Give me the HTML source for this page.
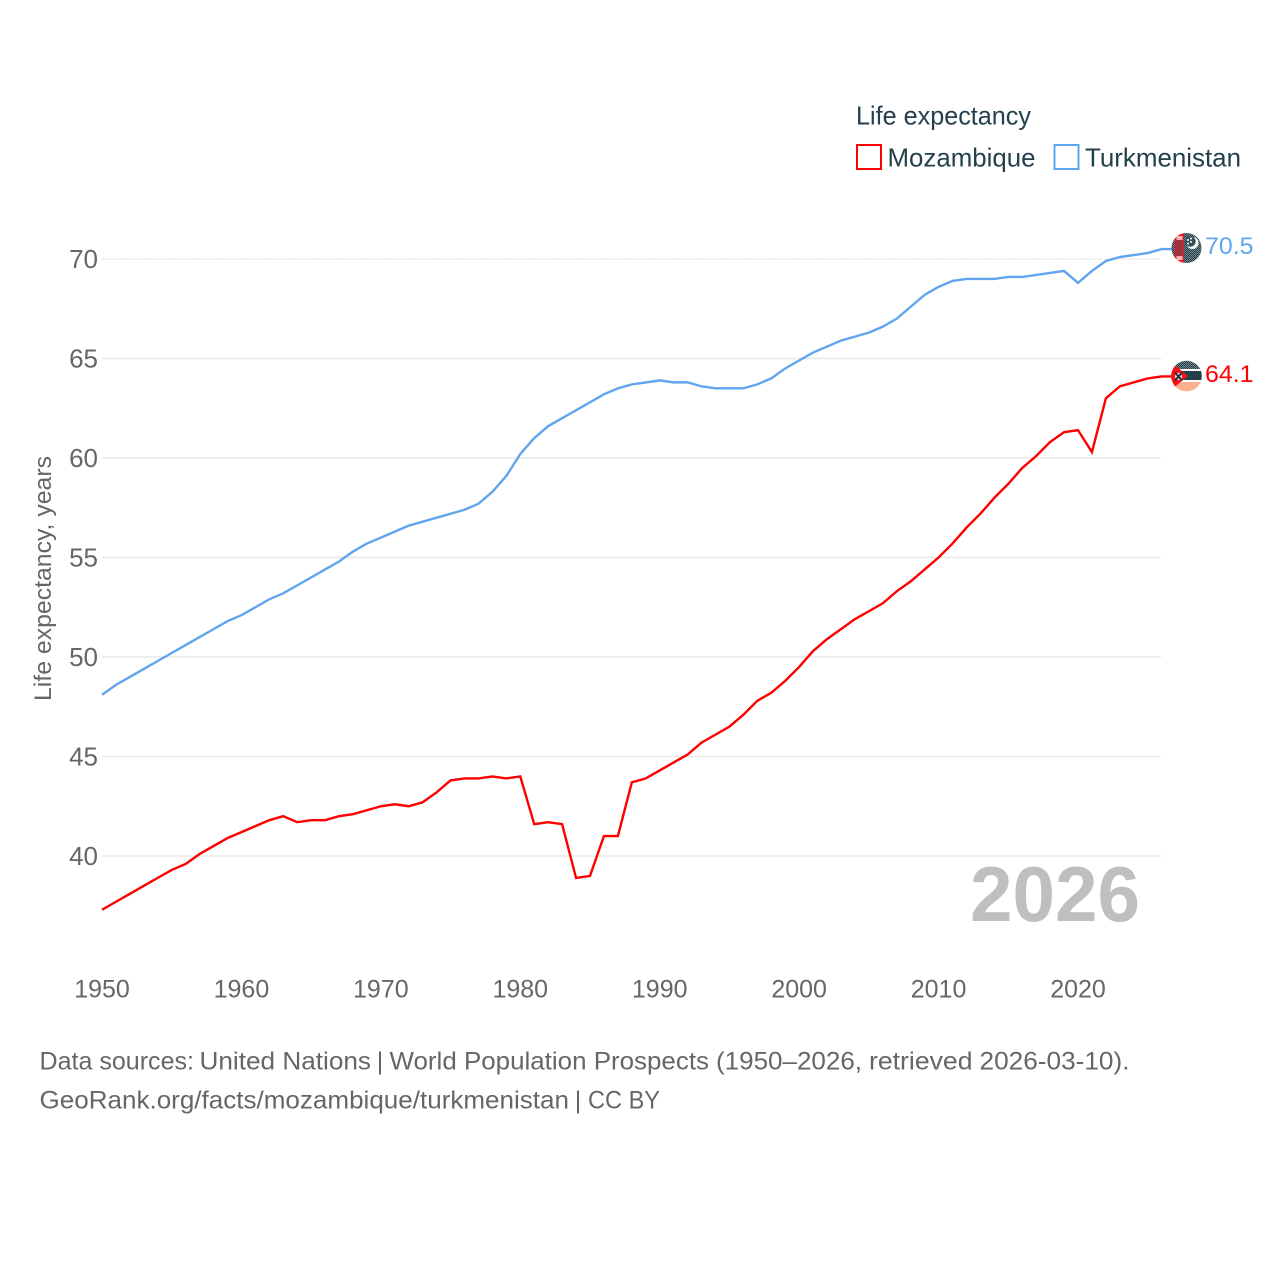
<!DOCTYPE html>
<html lang="en">
<head>
<meta charset="utf-8">
<title>Life expectancy: Mozambique and Turkmenistan</title>
<style>
html,body{margin:0;padding:0;background:#fff;width:1280px;height:1280px;overflow:hidden}
svg{display:block}
text{font-family:"Liberation Sans",sans-serif}
</style>
</head>
<body>
<svg id="chart" width="1280" height="1280" viewBox="0 0 1280 1280" xmlns="http://www.w3.org/2000/svg">
  <defs>
    <pattern id="dither" width="2" height="2" patternUnits="userSpaceOnUse">
      <rect width="2" height="2" fill="#22404a"/>
      <rect width="1" height="1" fill="#75878d"/>
      <rect x="1" y="1" width="1" height="1" fill="#75878d"/>
    </pattern>
    <clipPath id="clip-turkmenistan"><circle cx="1186.5" cy="248" r="15"/></clipPath>
    <clipPath id="clip-mozambique"><circle cx="1186.5" cy="376" r="15.3"/></clipPath>
  </defs>
  <g id="grid"></g>
  <g id="y-ticks"></g>
  <g id="x-ticks"></g>
  <text transform="translate(51,578.5) rotate(-90)" text-anchor="middle" font-size="24" fill="#666" textLength="245" lengthAdjust="spacingAndGlyphs">Life expectancy, years</text>
  <text x="970" y="921" font-size="78" font-weight="700" fill="#bfbfbf" textLength="170" lengthAdjust="spacingAndGlyphs">2026</text>
  <g id="series"></g>

  <g clip-path="url(#clip-turkmenistan)">
    <rect x="1171" y="233" width="31" height="30" fill="url(#dither)"/>
    <rect x="1175" y="233" width="8.5" height="30" fill="#f5101c"/>
    <rect x="1177" y="240" width="5" height="16" fill="#8a3a42"/>
    <rect x="1176.5" y="236" width="6" height="4" fill="#ffb4b4"/>
    <rect x="1176.5" y="256" width="6" height="4" fill="#ffb4b4"/>
    <circle cx="1192.5" cy="243" r="6" fill="#ffffff"/>
    <circle cx="1190.5" cy="241.5" r="5.2" fill="#33505a"/>
    <circle cx="1188" cy="240" r="1" fill="#fff"/>
    <circle cx="1188" cy="243.5" r="1" fill="#fff"/>
    <circle cx="1191" cy="238.5" r="1" fill="#fff"/>
    <circle cx="1191" cy="242" r="1" fill="#fff"/>
  </g>
  <g clip-path="url(#clip-mozambique)">
    <rect x="1171" y="360" width="31" height="10" fill="url(#dither)"/>
    <rect x="1171" y="369" width="31" height="2" fill="#fff"/>
    <rect x="1171" y="371" width="31" height="9" fill="#22404a"/>
    <rect x="1171" y="380" width="31" height="2" fill="#fff"/>
    <rect x="1171" y="382" width="31" height="10" fill="#ffae90"/>
    <polygon points="1171,362 1188,376 1171,390" fill="#f5101c"/>
    <circle cx="1178.5" cy="376.5" r="3.6" fill="#f4d9d9"/>
    <path d="M1175 372.5l7 8M1182 372.5l-7 8" stroke="#22303a" stroke-width="2"/>
  </g>
  <text x="1205" y="254" font-size="24.5" fill="#60a5ee" textLength="48.5" lengthAdjust="spacingAndGlyphs">70.5</text>
  <text x="1205" y="382" font-size="24.5" fill="#ff0000" textLength="48.5" lengthAdjust="spacingAndGlyphs">64.1</text>

  <g>
    <text x="856" y="124.5" font-size="26" fill="#23404c" textLength="175" lengthAdjust="spacingAndGlyphs">Life expectancy</text>
    <g>
      <rect x="857" y="145" width="24" height="24" fill="#fff" stroke="#ff0000" stroke-width="2"/>
      <text x="887.5" y="166.5" font-size="26" fill="#23404c" textLength="148" lengthAdjust="spacingAndGlyphs">Mozambique</text>
    </g>
    <g>
      <rect x="1054.5" y="145" width="24" height="24" fill="#fff" stroke="#60a5ee" stroke-width="2"/>
      <text x="1085" y="166.5" font-size="26" fill="#23404c" textLength="156" lengthAdjust="spacingAndGlyphs">Turkmenistan</text>
    </g>
  </g>

  <g font-size="25" fill="#666">
    <text x="39.5" y="1069.5" textLength="154.5" lengthAdjust="spacingAndGlyphs">Data sources:</text>
    <text x="199.5" y="1069.5" textLength="171.5" lengthAdjust="spacingAndGlyphs">United Nations</text>
    <text x="376.7" y="1069.5">|</text>
    <text x="389.5" y="1069.5" textLength="319.5" lengthAdjust="spacingAndGlyphs">World Population Prospects</text>
    <text x="716" y="1069.5" textLength="146" lengthAdjust="spacingAndGlyphs">(1950–2026,</text>
    <text x="869" y="1069.5" textLength="103.5" lengthAdjust="spacingAndGlyphs">retrieved</text>
    <text x="979.5" y="1069.5" textLength="150" lengthAdjust="spacingAndGlyphs">2026-03-10).</text>
  </g>
  <g font-size="25" fill="#666">
    <text x="39.5" y="1108.5" textLength="529.5" lengthAdjust="spacingAndGlyphs">GeoRank.org/facts/mozambique/turkmenistan</text>
    <text x="574.7" y="1108.5">|</text>
    <text x="588" y="1108.5" textLength="72" lengthAdjust="spacingAndGlyphs">CC BY</text>
  </g>
</svg>
<script>
const startYear = 1950;
const mozambique = [37.3,37.7,38.1,38.5,38.9,39.3,39.6,40.1,40.5,40.9,41.2,41.5,41.8,42.0,41.7,41.8,41.8,42.0,42.1,42.3,42.5,42.6,42.5,42.7,43.2,43.8,43.9,43.9,44.0,43.9,44.0,41.6,41.7,41.6,38.9,39.0,41.0,41.0,43.7,43.9,44.3,44.7,45.1,45.7,46.1,46.5,47.1,47.8,48.2,48.8,49.5,50.3,50.9,51.4,51.9,52.3,52.7,53.3,53.8,54.4,55.0,55.7,56.5,57.2,58.0,58.7,59.5,60.1,60.8,61.3,61.4,60.3,63.0,63.6,63.8,64.0,64.1];
const turkmenistan = [48.1,48.6,49.0,49.4,49.8,50.2,50.6,51.0,51.4,51.8,52.1,52.5,52.9,53.2,53.6,54.0,54.4,54.8,55.3,55.7,56.0,56.3,56.6,56.8,57.0,57.2,57.4,57.7,58.3,59.1,60.2,61.0,61.6,62.0,62.4,62.8,63.2,63.5,63.7,63.8,63.9,63.8,63.8,63.6,63.5,63.5,63.5,63.7,64.0,64.5,64.9,65.3,65.6,65.9,66.1,66.3,66.6,67.0,67.6,68.2,68.6,68.9,69.0,69.0,69.0,69.1,69.1,69.2,69.3,69.4,68.8,69.4,69.9,70.1,70.2,70.3,70.5];
const yTickLabels = [40,45,50,55,60,65,70];
const xTickLabels = [1950,1960,1970,1980,1990,2000,2010,2020];

const NS = 'http://www.w3.org/2000/svg';
const xScale = year => 102 + (year - 1950) * (976 / 70);
const yScale = value => 856 - (value - 40) * (597 / 30);
const make = (tag, parent) => parent.appendChild(document.createElementNS(NS, tag));

const gridGroup = document.getElementById('grid');
const yTickGroup = document.getElementById('y-ticks');
const topTick = yTickLabels[yTickLabels.length - 1];
yTickLabels.forEach(v => {
  const line = make('line', gridGroup);
  
  
  line.setAttribute('x1', 102);
  line.setAttribute('x2', 1161);
  line.setAttribute('y1', yScale(v));
  line.setAttribute('y2', yScale(v));
  line.setAttribute('stroke', '#e8e8e8');
  line.setAttribute('stroke-width', 1.5);
  if (v === topTick) line.setAttribute('stroke-dasharray', '2 1');
  const label = make('text', yTickGroup);
  
  
  label.setAttribute('x', 98);
  label.setAttribute('y', yScale(v) + 9);
  label.setAttribute('text-anchor', 'end');
  label.setAttribute('font-size', 26);
  label.setAttribute('fill', '#666');
  label.textContent = v;
});

const xTickGroup = document.getElementById('x-ticks');
xTickLabels.forEach(y => {
  const label = make('text', xTickGroup);
  
  
  label.setAttribute('x', xScale(y));
  label.setAttribute('y', 997.5);
  label.setAttribute('text-anchor', 'middle');
  label.setAttribute('font-size', 25);
  label.setAttribute('fill', '#666');
  label.textContent = y;
});

const seriesGroup = document.getElementById('series');
const pathFor = values => {
  const pts = values.map((v, i) => xScale(startYear + i).toFixed(2) + ',' + yScale(v).toFixed(2));
  pts.push('1172,' + yScale(values[values.length - 1]).toFixed(2));
  return pts.join(' ');
};

const mozLine = make('polyline', seriesGroup);


mozLine.setAttribute('points', pathFor(mozambique));
mozLine.setAttribute('fill', 'none');
mozLine.setAttribute('stroke', '#ff0000');
mozLine.setAttribute('stroke-width', 2.4);

const turLine = make('polyline', seriesGroup);


turLine.setAttribute('points', pathFor(turkmenistan));
turLine.setAttribute('fill', 'none');
turLine.setAttribute('stroke', '#60a5ee');
turLine.setAttribute('stroke-width', 2.4);
</script>
</body>
</html>
